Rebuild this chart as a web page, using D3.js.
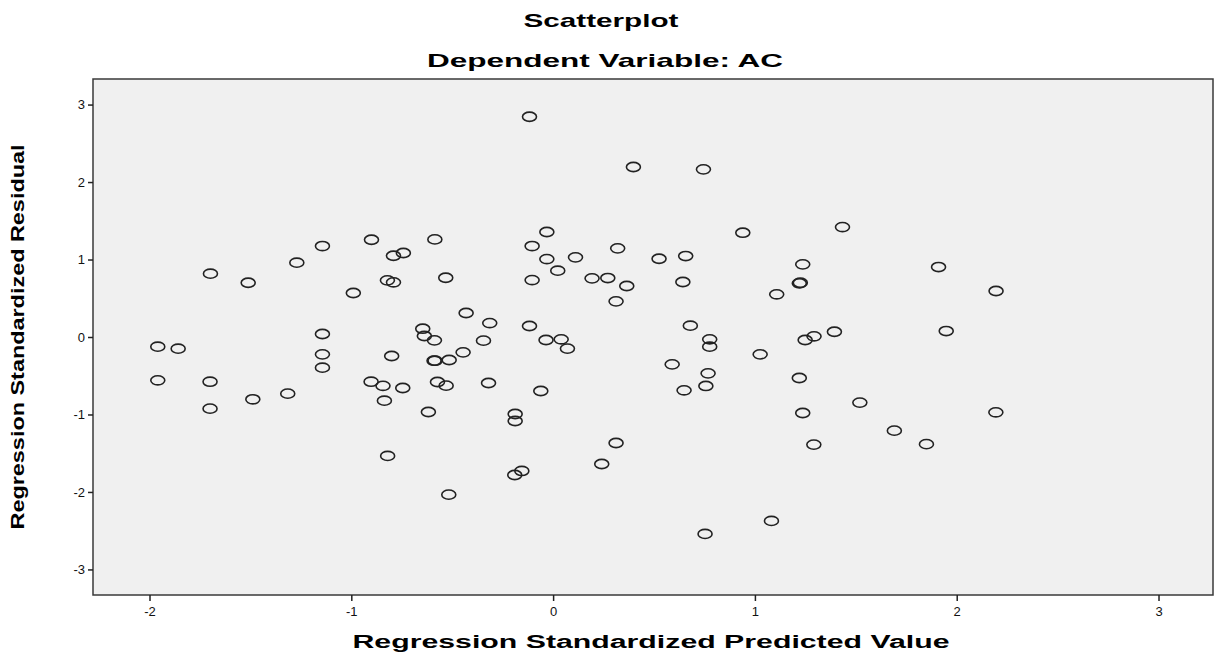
<!DOCTYPE html>
<html>
<head>
<meta charset="utf-8">
<script src="https://cdn.jsdelivr.net/npm/d3@7"></script>
<style>
  body { margin: 0; background: #fff; }
  text { font-family: "Liberation Sans", Arial, sans-serif; }
</style>
</head>
<body>
<div id="chart"></div>
<script>
// values
var predicted = [
  -0.117, 0.398, 0.745, 1.434, 0.940, -0.031, -1.143, -0.900, -0.586, -0.104,
  0.320, -0.791, -0.742, -0.031, 0.111, 0.525, 0.657, 1.237, 1.910, -1.270,
  -1.698, -1.511, 0.023, -0.821, -0.791, -0.532, -0.104, 0.193, 0.271, 0.365,
  0.643, 1.220, 1.225, 1.108, -0.990, 2.195, 0.312, -0.431, -0.314, -0.117,
  -0.646, 0.680, -1.143, -0.638, -0.588, -0.345, -0.035, 0.040, 0.071, 0.776,
  0.776, 1.249, 1.293, 1.394, 1.948, -1.959, -1.858, -1.143, -1.143, -0.800,
  -0.590, -0.585, -0.515, -0.446, 0.590, 1.026, -1.959, -1.700, -0.902, -0.843,
  -0.745, -0.573, -0.530, -0.320, -0.061, 0.649, 0.768, 0.757, 1.220, -1.700,
  -1.488, -1.315, -0.836, -0.618, -0.188, -0.188, 1.237, 1.520, 2.194, 1.691,
  1.292, 1.850, 0.312, -0.820, 0.241, -0.155, -0.190, -0.517, 1.082, 0.753
];
var residual = [
  2.843, 2.194, 2.164, 1.419, 1.346, 1.355, 1.174, 1.255, 1.260, 1.174,
  1.144, 1.049, 1.084, 1.006, 1.028, 1.010, 1.045, 0.938, 0.903, 0.959,
  0.817, 0.700, 0.856, 0.731, 0.706, 0.765, 0.735, 0.757, 0.761, 0.658,
  0.710, 0.693, 0.700, 0.551, 0.568, 0.594, 0.460, 0.310, 0.180, 0.142,
  0.107, 0.146, 0.039, 0.013, -0.043, -0.047, -0.039, -0.030, -0.150, -0.030,
  -0.125, -0.039, 0.009, 0.068, 0.077, -0.125, -0.151, -0.224, -0.396, -0.245,
  -0.306, -0.306, -0.297, -0.198, -0.353, -0.224, -0.559, -0.577, -0.577, -0.630,
  -0.658, -0.581, -0.628, -0.594, -0.697, -0.688, -0.469, -0.632, -0.529, -0.925,
  -0.804, -0.731, -0.822, -0.968, -0.994, -1.084, -0.981, -0.847, -0.972, -1.209,
  -1.389, -1.383, -1.368, -1.535, -1.639, -1.729, -1.781, -2.035, -2.374, -2.542
];
var xTicks = [-2, -1, 0, 1, 2, 3];
var yTicks = [-3, -2, -1, 0, 1, 2, 3];

var title = "Scatterplot";
var subtitle = "Dependent Variable: AC";
var xLabel = "Regression Standardized Predicted Value";
var yLabel = "Regression Standardized Residual";

var points = predicted.map((d, i) => [d, residual[i]]);

var w = 1215;
var h = 659;
var plot = { left: 93, right: 1213, top: 79, bottom: 595 };

var svg = d3.select("#chart")
  .append("svg")
  .attr("width", w)
  .attr("height", h);

var xScale = d3.scaleLinear()
  .domain([-2.28, 3.27])
  .range([plot.left, plot.right]);

var yScale = d3.scaleLinear()
  .domain([-3.33, 3.33])
  .range([plot.bottom, plot.top]);

// plot background
svg.append("rect")
  .attr("x", plot.left)
  .attr("y", plot.top)
  .attr("width", plot.right - plot.left)
  .attr("height", plot.bottom - plot.top)
  .attr("fill", "#f0f0f0")
  .attr("stroke", "#3a3a3a")
  .attr("stroke-width", 1.5);

// axes
var xAxis = d3.axisBottom(xScale)
  .tickValues(xTicks)
  .tickSize(6)
  .tickPadding(6)
  .tickFormat((d) => String(d));

var yAxis = d3.axisLeft(yScale)
  .tickValues(yTicks)
  .tickSize(5)
  .tickPadding(3)
  .tickFormat((d) => String(d));

var gx = svg.append("g")
  .attr("transform", "translate(0," + plot.bottom + ")")
  .call(xAxis);

var gy = svg.append("g")
  .attr("transform", "translate(" + plot.left + ",0)")
  .call(yAxis);

[gx, gy].forEach((g) => {
  g.select(".domain").remove();
  g.selectAll(".tick line").attr("stroke", "#222").attr("stroke-width", 1.5);
  g.selectAll(".tick text")
    .attr("fill", "#111")
    .attr("font-size", "13px")
    .attr("font-family", "'Liberation Sans', Arial, sans-serif");
});

// points: drawn as open ellipses like the original
svg.append("g")
  .selectAll("ellipse")
  .data(points)
  .enter()
  .append("ellipse")
  .attr("cx", (d) => xScale(d[0]))
  .attr("cy", (d) => yScale(d[1]))
  .attr("rx", 7)
  .attr("ry", 4.6)
  .attr("fill", "none")
  .attr("stroke", "#222")
  .attr("stroke-width", 1.6);

// titles
svg.append("text")
  .attr("x", 601)
  .attr("y", 27)
  .attr("text-anchor", "middle")
  .attr("font-size", "19px")
  .attr("font-weight", "bold")
  .attr("textLength", 155)
  .attr("lengthAdjust", "spacingAndGlyphs")
  .text(title);

svg.append("text")
  .attr("x", 605)
  .attr("y", 67)
  .attr("text-anchor", "middle")
  .attr("font-size", "19px")
  .attr("font-weight", "bold")
  .attr("textLength", 356)
  .attr("lengthAdjust", "spacingAndGlyphs")
  .text(subtitle);

svg.append("text")
  .attr("x", 651)
  .attr("y", 648)
  .attr("text-anchor", "middle")
  .attr("font-size", "18px")
  .attr("font-weight", "bold")
  .attr("textLength", 597)
  .attr("lengthAdjust", "spacingAndGlyphs")
  .text(xLabel);

svg.append("text")
  .attr("transform", "translate(24," + 337 + ") rotate(-90)")
  .attr("text-anchor", "middle")
  .attr("font-size", "18px")
  .attr("font-weight", "bold")
  .attr("textLength", 385)
  .attr("lengthAdjust", "spacingAndGlyphs")
  .text(yLabel);
</script>
</body>
</html>
